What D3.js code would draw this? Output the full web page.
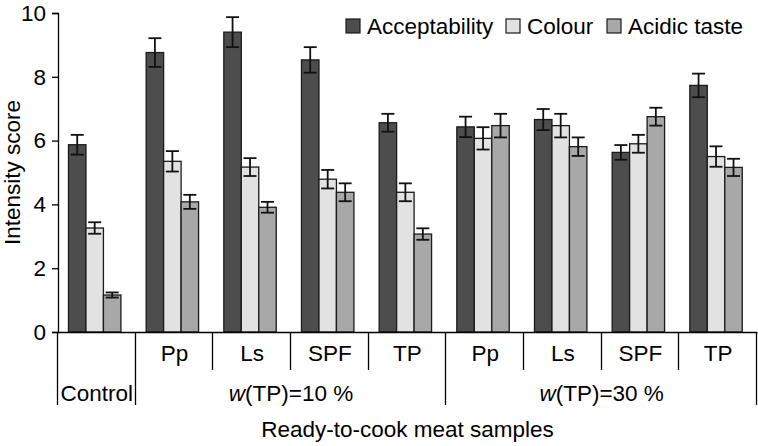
<!DOCTYPE html>
<html>
<head>
<meta charset="utf-8">
<script src="https://cdn.jsdelivr.net/npm/d3@7"></script>
<style>
  html, body { margin: 0; padding: 0; background: #fff; }
  svg { display: block; font-family: "Liberation Sans", Arial, sans-serif; }
</style>
</head>
<body>
<svg id="chart" width="758" height="446"></svg>
<script>
// ---- data ----
const samples = ["Control", "Pp10", "Ls10", "SPF10", "TP10", "Pp30", "Ls30", "SPF30", "TP30"];
const sampleLabels = ["", "Pp", "Ls", "SPF", "TP", "Pp", "Ls", "SPF", "TP"];
const seriesNames = ["Acceptability", "Colour", "Acidic taste"];
const acceptability = [5.87, 8.76, 9.40, 8.53, 6.56, 6.43, 6.66, 5.63, 7.73];
const colour        = [3.26, 5.35, 5.17, 4.79, 4.38, 6.07, 6.47, 5.90, 5.50];
const acidic        = [1.16, 4.08, 3.91, 4.38, 3.07, 6.47, 5.81, 6.75, 5.16];
const accErr        = [0.31, 0.45, 0.47, 0.40, 0.28, 0.32, 0.33, 0.23, 0.37];
const colErr        = [0.18, 0.32, 0.28, 0.29, 0.28, 0.35, 0.37, 0.28, 0.32];
const acdErr        = [0.08, 0.22, 0.17, 0.28, 0.18, 0.37, 0.29, 0.28, 0.27];
const yTicks = [0, 2, 4, 6, 8, 10];
const groupLabels = ["Control", "w(TP)=10 %", "w(TP)=30 %"];
const groupSpans = [[0, 0], [1, 4], [5, 8]];
const xTitle = "Ready-to-cook meat samples";
const yTitle = "Intensity score";

const seriesValues = [acceptability, colour, acidic];
const seriesErrors = [accErr, colErr, acdErr];
const colors = ["#4d4d4d", "#e2e2e2", "#a8a8a8"];

// ---- layout ----
const svg = d3.select("#chart");
const mLeft = 58, mRight = 757, mTop = 13, mBottom = 332;
const fs = 22.5;

const x = d3.scaleBand().domain(samples).range([mLeft, mRight]).padding(0);
const step = x.step();
const xs = d3.scaleBand().domain(seriesNames).range([0.135 * step, 0.81 * step]).padding(0);
const y = d3.scaleLinear().domain([0, 10]).range([mBottom, mTop]);

// bars
const data = [];
samples.forEach((s, i) => {
  seriesNames.forEach((n, j) => {
    data.push({ s, n, j, v: seriesValues[j][i], e: seriesErrors[j][i] });
  });
});

const g = svg.append("g");
g.selectAll("rect.bar").data(data).join("rect")
  .attr("class", "bar")
  .attr("x", d => x(d.s) + xs(d.n))
  .attr("y", d => y(d.v))
  .attr("width", xs.bandwidth())
  .attr("height", d => y(0) - y(d.v))
  .attr("fill", d => colors[d.j])
  .attr("stroke", "#1a1a1a")
  .attr("stroke-width", 1.3);

// error bars
const capW = 13;
const cxOf = d => x(d.s) + xs(d.n) + xs.bandwidth() / 2;
const eg = g.selectAll("g.err").data(data).join("g").attr("class", "err")
  .attr("stroke", "#111").attr("stroke-width", 1.8);
eg.append("line")
  .attr("x1", cxOf).attr("x2", cxOf)
  .attr("y1", d => y(d.v - d.e)).attr("y2", d => y(d.v + d.e));
eg.append("line")
  .attr("x1", d => cxOf(d) - capW / 2).attr("x2", d => cxOf(d) + capW / 2)
  .attr("y1", d => y(d.v + d.e)).attr("y2", d => y(d.v + d.e));
eg.append("line")
  .attr("x1", d => cxOf(d) - capW / 2).attr("x2", d => cxOf(d) + capW / 2)
  .attr("y1", d => y(d.v - d.e)).attr("y2", d => y(d.v - d.e));

// y axis
const yAxis = svg.append("g").attr("transform", `translate(${mLeft},0)`)
  .call(d3.axisLeft(y).tickValues(yTicks).tickSize(6).tickPadding(6).tickFormat(d3.format("d")));
yAxis.selectAll("text").attr("font-size", fs).attr("fill", "#000").attr("font-family", "Liberation Sans, Arial, sans-serif");
yAxis.selectAll("line, path").attr("stroke", "#000").attr("stroke-width", 1.3);

// x axis line
const xAxis = svg.append("g").attr("transform", `translate(0,${mBottom})`)
  .call(d3.axisBottom(x).tickValues([]).tickSizeOuter(0));
xAxis.select("path").attr("stroke", "#000").attr("stroke-width", 1.3);

// separators
const sepShort = 370, sepLong = 405;
const boundaries = samples.map((s, i) => ({ pos: x(s), long: groupSpans.some(sp => sp[0] === i) }));
boundaries.push({ pos: x(samples[samples.length - 1]) + step, long: true });
svg.selectAll("line.sep").data(boundaries).join("line")
  .attr("class", "sep")
  .attr("x1", d => Math.round(d.pos) - 0.5).attr("x2", d => Math.round(d.pos) - 0.5)
  .attr("y1", mBottom).attr("y2", d => d.long ? sepLong : sepShort)
  .attr("stroke", "#000").attr("stroke-width", 1.3);

// sample labels
svg.selectAll("text.slab").data(samples).join("text")
  .attr("class", "slab")
  .attr("x", d => x(d) + step / 2)
  .attr("y", 361)
  .attr("text-anchor", "middle")
  .attr("font-size", fs)
  .text((d, i) => sampleLabels[i]);

// group labels
groupLabels.forEach((lab, k) => {
  const sp = groupSpans[k];
  const cx = (x(samples[sp[0]]) + x(samples[sp[1]]) + step) / 2;
  const t = svg.append("text").attr("x", cx).attr("y", 401).attr("text-anchor", "middle").attr("font-size", fs);
  if (lab.startsWith("w(")) {
    t.append("tspan").attr("font-style", "italic").text("w");
    t.append("tspan").text(lab.slice(1));
  } else {
    t.text(lab);
  }
});

// axis titles
svg.append("text").attr("x", (mLeft + mRight) / 2).attr("y", 437)
  .attr("text-anchor", "middle").attr("font-size", fs).text(xTitle);
svg.append("text").attr("transform", `translate(20,${(mTop + mBottom) / 2}) rotate(-90)`)
  .attr("text-anchor", "middle").attr("font-size", fs).text(yTitle);

// legend
const legendX = [346, 506, 607];
const lg = svg.selectAll("g.leg").data(seriesNames).join("g").attr("class", "leg")
  .attr("transform", (d, i) => `translate(${legendX[i]},19)`);
lg.append("rect").attr("width", 14).attr("height", 14)
  .attr("fill", (d, i) => colors[i]).attr("stroke", "#1a1a1a").attr("stroke-width", 1.2);
lg.append("text").attr("x", 21).attr("y", 14.5).attr("font-size", fs).text(d => d);
</script>
</body>
</html>
